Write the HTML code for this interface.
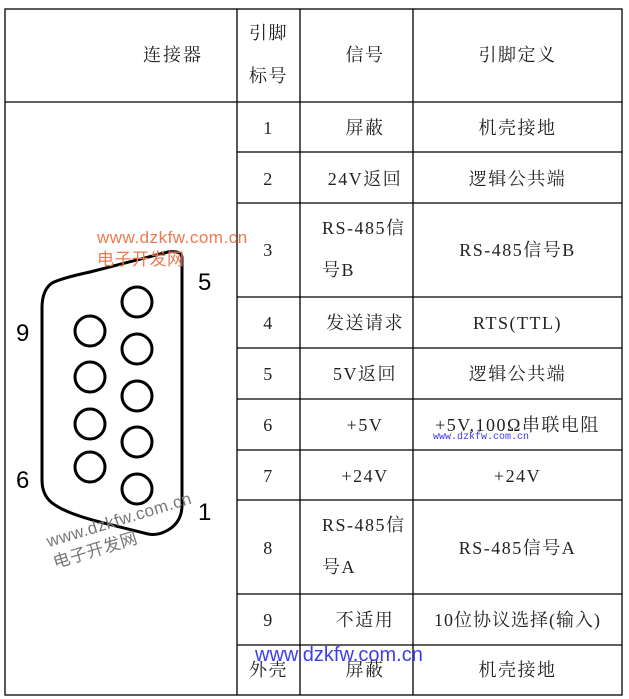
<!DOCTYPE html>
<html><head><meta charset="utf-8"><style>
html,body{margin:0;padding:0;background:#fff;}
body{width:629px;height:699px;position:relative;overflow:hidden;font-family:"Liberation Serif","Noto Serif CJK SC",serif;color:#222;}
.t{position:absolute;font-size:18px;line-height:20px;white-space:nowrap;text-align:center;letter-spacing:1.5px;}
</style></head><body>
<svg width="629" height="699" style="position:absolute;left:0;top:0">
<g stroke="#000" stroke-width="1.3" fill="none">
<rect x="5" y="9" width="617" height="686"/>
<line x1="5" y1="102" x2="622" y2="102"/>
<line x1="237" y1="9" x2="237" y2="695"/>
<line x1="300" y1="9" x2="300" y2="695"/>
<line x1="413" y1="9" x2="413" y2="695"/>
<line x1="237" y1="152" x2="622" y2="152"/>
<line x1="237" y1="203" x2="622" y2="203"/>
<line x1="237" y1="297" x2="622" y2="297"/>
<line x1="237" y1="348" x2="622" y2="348"/>
<line x1="237" y1="399" x2="622" y2="399"/>
<line x1="237" y1="450" x2="622" y2="450"/>
<line x1="237" y1="500" x2="622" y2="500"/>
<line x1="237" y1="594" x2="622" y2="594"/>
<line x1="237" y1="645" x2="622" y2="645"/>
</g>
<g stroke="#000" stroke-width="3" fill="none">
<path d="M182 258 L182 505 Q182 522 168 530 Q158 536 148 534 L108 524 Q70 515 55 505 Q42 497 42 480 L42 308 Q42 290 52 283 Q62 278 90 272 L168 252 Q182 250 182 258 Z"/>
<circle cx="137" cy="302" r="15"/><circle cx="137" cy="349" r="15"/><circle cx="137" cy="396" r="15"/><circle cx="137" cy="442" r="15"/><circle cx="137" cy="489" r="15"/>
<circle cx="90" cy="331" r="15"/><circle cx="90" cy="377" r="15"/><circle cx="90" cy="424" r="15"/><circle cx="90" cy="467" r="15"/>
</g>
<g font-family="Liberation Sans,sans-serif" font-size="24" fill="#000">
<text x="198" y="290">5</text><text x="16" y="341">9</text><text x="16" y="488">6</text><text x="198" y="520">1</text>
</g>
</svg>
<div class="t" style="left:143px;top:45px;letter-spacing:2px">连接器</div>
<div class="t" style="left:237px;width:63px;top:12px;line-height:43px">引脚<br>标号</div>
<div class="t" style="left:300px;width:130px;top:45px">信号</div>
<div class="t" style="left:413px;width:209px;top:45px">引脚定义</div>

<div class="t" style="left:237px;width:63px;top:118px">1</div>
<div class="t" style="left:300px;width:130px;top:118px">屏蔽</div>
<div class="t" style="left:413px;width:209px;top:118px">机壳接地</div>

<div class="t" style="left:237px;width:63px;top:169px">2</div>
<div class="t" style="left:300px;width:130px;top:169px">24V返回</div>
<div class="t" style="left:413px;width:209px;top:169px">逻辑公共端</div>

<div class="t" style="left:237px;width:63px;top:240px">3</div>
<div class="t" style="left:322px;top:207px;line-height:42px;text-align:left">RS-485信<br>号B</div>
<div class="t" style="left:413px;width:209px;top:240px">RS-485信号B</div>

<div class="t" style="left:237px;width:63px;top:313px">4</div>
<div class="t" style="left:300px;width:130px;top:313px">发送请求</div>
<div class="t" style="left:413px;width:209px;top:313px">RTS(TTL)</div>

<div class="t" style="left:237px;width:63px;top:364px">5</div>
<div class="t" style="left:300px;width:130px;top:364px">5V返回</div>
<div class="t" style="left:413px;width:209px;top:364px">逻辑公共端</div>

<div class="t" style="left:237px;width:63px;top:415px">6</div>
<div class="t" style="left:300px;width:130px;top:415px">+5V</div>
<div class="t" style="left:413px;width:209px;top:415px">+5V,100Ω串联电阻</div>

<div class="t" style="left:237px;width:63px;top:466px">7</div>
<div class="t" style="left:300px;width:130px;top:466px">+24V</div>
<div class="t" style="left:413px;width:209px;top:466px">+24V</div>

<div class="t" style="left:237px;width:63px;top:538px">8</div>
<div class="t" style="left:322px;top:504px;line-height:42px;text-align:left">RS-485信<br>号A</div>
<div class="t" style="left:413px;width:209px;top:538px">RS-485信号A</div>

<div class="t" style="left:237px;width:63px;top:610px">9</div>
<div class="t" style="left:300px;width:130px;top:610px">不适用</div>
<div class="t" style="left:413px;width:209px;top:610px;letter-spacing:1px">10位协议选择(输入)</div>

<div class="t" style="left:237px;width:63px;top:660px">外壳</div>
<div class="t" style="left:300px;width:130px;top:660px">屏蔽</div>
<div class="t" style="left:413px;width:209px;top:660px">机壳接地</div>

<div class="t" style="left:97px;top:227px;color:#f07850;font-family:'Liberation Sans','Noto Sans CJK SC',sans-serif;font-size:17px;line-height:22px;text-align:left;letter-spacing:0.5px">www.dzkfw.com.cn<br>电子开发网</div>
<div class="t" style="left:44px;top:532px;color:#777;font-family:'Liberation Sans','Noto Sans CJK SC',sans-serif;font-size:17px;line-height:22px;text-align:left;letter-spacing:0.5px;transform:rotate(-17deg);transform-origin:0 0">www.dzkfw.com.cn<br>电子开发网</div>
<div class="t" style="left:433px;top:432px;color:#3a3aee;font-family:'Liberation Mono',monospace;font-size:10px;line-height:12px;letter-spacing:0">www.dzkfw.com.cn</div>
<div class="t" style="left:255px;top:644px;color:#3c3cf0;font-family:'Liberation Sans',sans-serif;font-size:20px;line-height:22px;letter-spacing:0">www.dzkfw.com.cn</div>
</body></html>
